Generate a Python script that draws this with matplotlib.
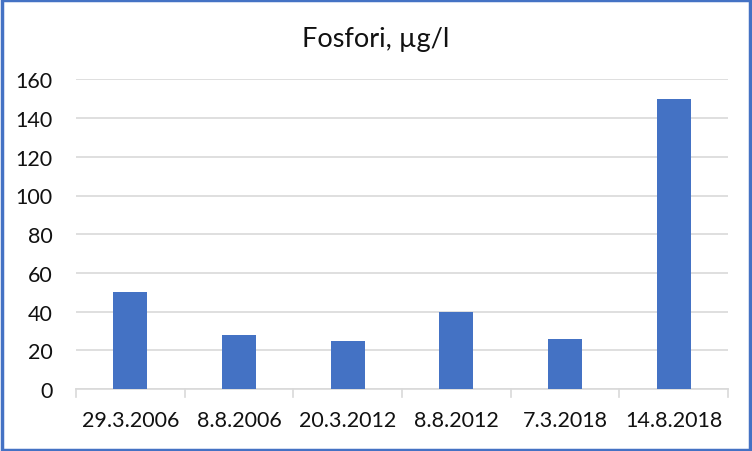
import matplotlib.pyplot as plt
from matplotlib.patches import Rectangle

dates = ["29.3.2006", "8.8.2006", "20.3.2012", "8.8.2012", "7.3.2018", "14.8.2018"]
fosfori = [50, 28, 25, 40, 26, 150]
yticks = [0, 20, 40, 60, 80, 100, 120, 140, 160]

plt.rcParams['font.family'] = ['Lato', 'DejaVu Sans']

W, H = 752, 452
fig = plt.figure(figsize=(W / 100, H / 100), dpi=100)
ax = fig.add_axes([76 / W, (H - 390) / H, (728 - 76) / W, (390 - 80.4) / H])

x = range(len(dates))
ax.bar(x, fosfori, width=0.31, color="#4472C4", zorder=3)

ax.set_xlim(-0.5, len(dates) - 0.5)
ax.set_ylim(0, 160)
ax.set_yticks(yticks)
ax.set_xticks(list(x))
ax.set_xticklabels(dates)
ax.grid(axis="y", color="#D9D9D9", linewidth=1.2, zorder=0)

for s in ["top", "right", "left"]:
    ax.spines[s].set_visible(False)
ax.spines["bottom"].set_color("#D9D9D9")
ax.spines["bottom"].set_linewidth(1.2)

ax.tick_params(axis="y", length=0, pad=17, labelsize=15.5, labelcolor="#111111")
ax.tick_params(axis="x", length=0, pad=15, labelsize=15.5, labelcolor="#111111")

# category boundary tick marks below axis
for b in range(len(dates) + 1):
    ax.plot([b - 0.5, b - 0.5], [0, -4], color="#D9D9D9", linewidth=1.2,
            clip_on=False, zorder=2)

fig.text(0.5, (H - 47) / H, "Fosfori, µg/l", ha="center", va="baseline",
         fontsize=19.5, color="#111111")

fig.patches.append(Rectangle((0.002, 0.003), 0.996, 0.994, transform=fig.transFigure,
                             fill=False, edgecolor="#4472C4", linewidth=2.5))

fig.savefig("out.png", dpi=100)
